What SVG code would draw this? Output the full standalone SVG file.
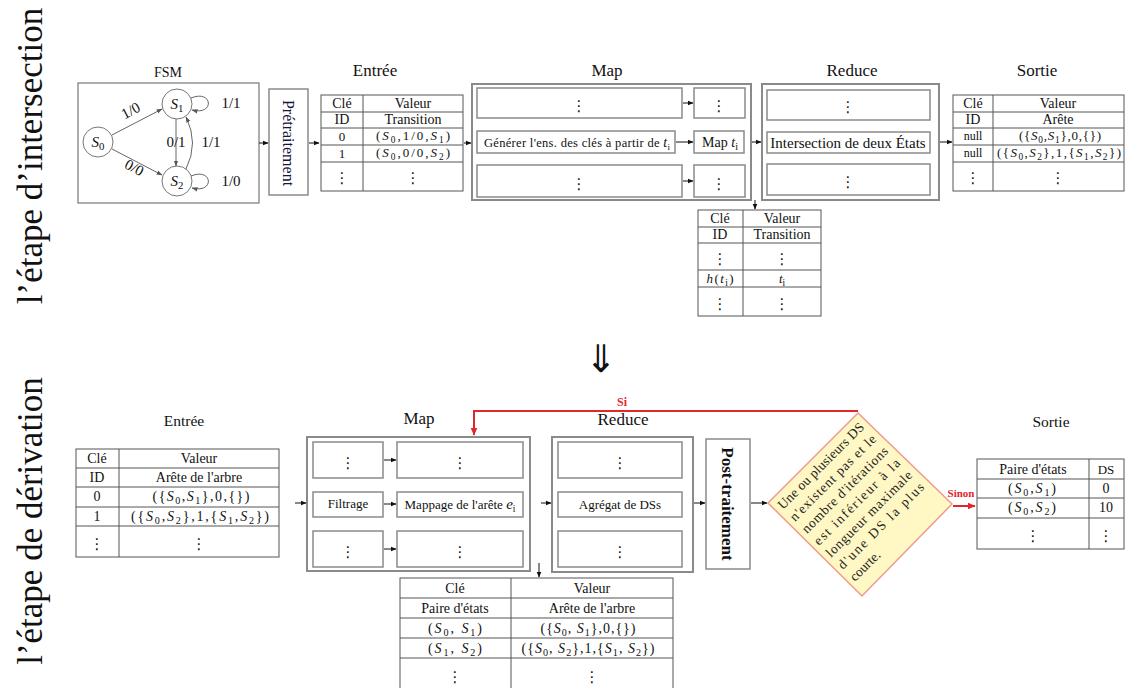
<svg xmlns="http://www.w3.org/2000/svg" width="1129" height="688" viewBox="0 0 1129 688">
<defs>
<style>
.t{font-family:"Liberation Serif",serif;fill:#111;text-anchor:middle}
.i{font-style:italic}
.sb{font-size:0.72em}
.d{font-family:"DejaVu Sans",sans-serif;fill:#111;text-anchor:middle;font-size:15px}
.box{fill:#fff;stroke:#8a8a8a;stroke-width:1.5}
.outer{fill:#fff;stroke:#8a8a8a;stroke-width:2}
.tb{fill:#fff;stroke:#555;stroke-width:1}
.ln{stroke:#555;stroke-width:1}
.c{stroke:#111;stroke-width:1;fill:none}
.fe{stroke:#666;stroke-width:1;fill:none}
.red{stroke:#e3262b;stroke-width:2;fill:none}
</style>
<marker id="ah" markerWidth="6" markerHeight="6" refX="5.5" refY="3" orient="auto" markerUnits="userSpaceOnUse"><path d="M0,0.5 L6,3 L0,5.5 z" fill="#111"/></marker>
<marker id="ahg" markerWidth="6" markerHeight="6" refX="5.5" refY="3" orient="auto" markerUnits="userSpaceOnUse"><path d="M0,0.8 L6,3 L0,5.2 z" fill="#555"/></marker>
<marker id="ahr" markerWidth="8" markerHeight="8" refX="7.5" refY="4" orient="auto" markerUnits="userSpaceOnUse"><path d="M0,0.5 L8,4 L0,7.5 z" fill="#e3262b"/></marker>
</defs>
<rect width="1129" height="688" fill="#fff"/>

<!-- side labels -->
<g id="label-intersection"><text class="t" font-size="35" transform="translate(42,156) rotate(-90)">l’étape d’intersection</text></g>
<g id="label-derivation"><text class="t" font-size="35" transform="translate(42,521) rotate(-90)">l’étape de dérivation</text></g>
<g id="big-arrow"><text x="601" y="372" font-family="DejaVu Sans, sans-serif" font-size="38" text-anchor="middle" fill="#111">⇓</text></g>

<!-- ===== TOP ===== -->
<g id="fsm">
<text class="t" x="168" y="77" font-size="14">FSM</text>
<rect x="78" y="83" width="181" height="120" fill="#fff" stroke="#777" stroke-width="1.2"/>
<circle cx="98" cy="142" r="15" fill="#fff" stroke="#777"/>
<circle cx="177" cy="104" r="15" fill="#fff" stroke="#777"/>
<circle cx="177" cy="181" r="15" fill="#fff" stroke="#777"/>
<text class="t" x="98" y="147" font-size="15"><tspan class="i">S</tspan><tspan class="sb" dy="3">0</tspan></text>
<text class="t" x="177" y="109" font-size="15"><tspan class="i">S</tspan><tspan class="sb" dy="3">1</tspan></text>
<text class="t" x="177" y="186" font-size="15"><tspan class="i">S</tspan><tspan class="sb" dy="3">2</tspan></text>
<line x1="112" y1="135" x2="162" y2="109" class="fe" marker-end="url(#ahg)"/>
<line x1="112" y1="149" x2="162" y2="175" class="fe" marker-end="url(#ahg)"/>
<line x1="176" y1="119" x2="176" y2="166" class="fe" marker-end="url(#ahg)"/>
<path d="M186 169 Q199 143 186 117" class="fe" marker-end="url(#ahg)"/>
<path d="M191 98 C213 89 215 116 192 110" class="fe" marker-end="url(#ahg)"/>
<path d="M191 176 C213 167 215 194 192 188" class="fe" marker-end="url(#ahg)"/>
<text class="t" font-size="15" transform="translate(133,115) rotate(-28)">1/0</text>
<text class="t" font-size="15" transform="translate(132,172) rotate(28)">0/0</text>
<text class="t" x="176" y="147" font-size="15">0/1</text>
<text class="t" x="211" y="147" font-size="15">1/1</text>
<text class="t" x="231" y="108" font-size="15">1/1</text>
<text class="t" x="231" y="186" font-size="15">1/0</text>
</g>

<g id="pretraitement">
<rect x="269" y="89" width="39" height="106" class="box"/>
<text class="t" font-size="16" style="fill:#14143c" transform="translate(283,143) rotate(90)">Prétraitement</text>
</g>

<g id="entree-top">
<text class="t" x="375" y="76" font-size="17">Entrée</text>
<rect x="321" y="95" width="142" height="96" class="tb"/>
<line x1="363" y1="95" x2="363" y2="191" class="ln"/>
<line x1="321" y1="112" x2="463" y2="112" class="ln"/>
<line x1="321" y1="128" x2="463" y2="128" class="ln"/>
<line x1="321" y1="145" x2="463" y2="145" class="ln"/>
<line x1="321" y1="162" x2="463" y2="162" class="ln"/>
<text class="t" x="342" y="108" font-size="14">Clé</text>
<text class="t" x="413" y="108" font-size="14">Valeur</text>
<text class="t" x="342" y="124" font-size="14">ID</text>
<text class="t" x="413" y="124" font-size="14">Transition</text>
<text class="t" x="342" y="141" font-size="13">0</text>
<text class="t" x="342" y="158" font-size="13">1</text>
<text class="t" x="413" y="140" font-size="13" textLength="74" lengthAdjust="spacing">(<tspan class="i">S</tspan><tspan class="sb" dy="3">0</tspan><tspan dy="-3">,1/0,</tspan><tspan class="i">S</tspan><tspan class="sb" dy="3">1</tspan><tspan dy="-3">)</tspan></text>
<text class="t" x="413" y="157" font-size="13" textLength="74" lengthAdjust="spacing">(<tspan class="i">S</tspan><tspan class="sb" dy="3">0</tspan><tspan dy="-3">,0/0,</tspan><tspan class="i">S</tspan><tspan class="sb" dy="3">2</tspan><tspan dy="-3">)</tspan></text>
<text class="d" x="342" y="183">⋮</text>
<text class="d" x="413" y="183">⋮</text>
</g>

<g id="map-top">
<text class="t" x="607" y="76" font-size="17">Map</text>
<rect x="472" y="84" width="279" height="116" class="outer"/>
<rect x="477" y="88" width="205" height="30" class="box"/>
<rect x="694" y="88" width="51" height="30" class="box"/>
<rect x="477" y="131" width="198" height="22" class="box"/>
<rect x="694" y="131" width="50" height="22" class="box"/>
<rect x="477" y="165" width="205" height="32" class="box"/>
<rect x="694" y="165" width="51" height="32" class="box"/>
<text class="d" x="579" y="111">⋮</text>
<text class="d" x="719" y="111">⋮</text>
<text class="d" x="579" y="189">⋮</text>
<text class="d" x="719" y="189">⋮</text>
<text class="t" x="577" y="147" font-size="12.5" textLength="186" lengthAdjust="spacing">Générer l'ens. des clés à partir de  <tspan class="i" font-size="14">t</tspan><tspan class="sb" dy="3">i</tspan></text>
<text class="t" x="720" y="147" font-size="14">Map  <tspan class="i">t</tspan><tspan class="sb" dy="3">i</tspan></text>
</g>

<g id="reduce-top">
<text class="t" x="852" y="76" font-size="17">Reduce</text>
<rect x="762" y="84" width="177" height="116" class="outer"/>
<rect x="767" y="90" width="163" height="30" class="box"/>
<rect x="767" y="132" width="163" height="21" class="box"/>
<rect x="767" y="164" width="163" height="31" class="box"/>
<text class="d" x="848" y="112">⋮</text>
<text class="d" x="848" y="187">⋮</text>
<text class="t" x="848" y="148" font-size="15">Intersection de deux États</text>
</g>

<g id="sortie-top">
<text class="t" x="1037" y="76" font-size="17">Sortie</text>
<rect x="953" y="95" width="171" height="96" class="tb"/>
<line x1="993" y1="95" x2="993" y2="191" class="ln"/>
<line x1="953" y1="112" x2="1124" y2="112" class="ln"/>
<line x1="953" y1="128" x2="1124" y2="128" class="ln"/>
<line x1="953" y1="145" x2="1124" y2="145" class="ln"/>
<line x1="953" y1="162" x2="1124" y2="162" class="ln"/>
<text class="t" x="973" y="108" font-size="14">Clé</text>
<text class="t" x="1058" y="108" font-size="14">Valeur</text>
<text class="t" x="973" y="124" font-size="14">ID</text>
<text class="t" x="1058" y="124" font-size="14">Arête</text>
<text class="t" x="973" y="140" font-size="12">null</text>
<text class="t" x="973" y="157" font-size="12">null</text>
<text class="t" x="1060" y="140" font-size="13" textLength="82" lengthAdjust="spacing">({<tspan class="i">S</tspan><tspan class="sb" dy="3">0</tspan><tspan dy="-3">,</tspan><tspan class="i">S</tspan><tspan class="sb" dy="3">1</tspan><tspan dy="-3">},0,{})</tspan></text>
<text class="t" x="1059" y="157" font-size="13" textLength="124" lengthAdjust="spacing">({<tspan class="i">S</tspan><tspan class="sb" dy="3">0</tspan><tspan dy="-3">,</tspan><tspan class="i">S</tspan><tspan class="sb" dy="3">2</tspan><tspan dy="-3">},1,{</tspan><tspan class="i">S</tspan><tspan class="sb" dy="3">1</tspan><tspan dy="-3">,</tspan><tspan class="i">S</tspan><tspan class="sb" dy="3">2</tspan><tspan dy="-3">})</tspan></text>
<text class="d" x="973" y="183">⋮</text>
<text class="d" x="1058" y="183">⋮</text>
</g>

<g id="inter-top">
<rect x="698" y="210" width="123" height="106" class="tb"/>
<line x1="743" y1="210" x2="743" y2="316" class="ln"/>
<line x1="698" y1="227" x2="821" y2="227" class="ln"/>
<line x1="698" y1="243" x2="821" y2="243" class="ln"/>
<line x1="698" y1="270" x2="821" y2="270" class="ln"/>
<line x1="698" y1="287" x2="821" y2="287" class="ln"/>
<text class="t" x="720" y="223" font-size="14">Clé</text>
<text class="t" x="782" y="223" font-size="14">Valeur</text>
<text class="t" x="720" y="239" font-size="14">ID</text>
<text class="t" x="782" y="239" font-size="14">Transition</text>
<text class="d" x="720" y="264">⋮</text>
<text class="d" x="782" y="264">⋮</text>
<text class="t" x="720" y="283" font-size="13" textLength="27" lengthAdjust="spacing"><tspan class="i">h</tspan>(<tspan class="i">t</tspan><tspan class="sb" dy="3">i</tspan><tspan dy="-3">)</tspan></text>
<text class="t" x="782" y="283" font-size="13"><tspan class="i">t</tspan><tspan class="sb" dy="3">i</tspan></text>
<text class="d" x="720" y="309">⋮</text>
<text class="d" x="782" y="309">⋮</text>
</g>

<!-- ===== BOTTOM ===== -->
<g id="entree-bottom">
<text class="t" x="184" y="426" font-size="15.5">Entrée</text>
<rect x="76" y="449" width="203" height="108" class="tb"/>
<line x1="119" y1="449" x2="119" y2="557" class="ln"/>
<line x1="76" y1="468" x2="279" y2="468" class="ln"/>
<line x1="76" y1="487" x2="279" y2="487" class="ln"/>
<line x1="76" y1="507" x2="279" y2="507" class="ln"/>
<line x1="76" y1="526" x2="279" y2="526" class="ln"/>
<text class="t" x="97" y="463" font-size="14">Clé</text>
<text class="t" x="199" y="463" font-size="14">Valeur</text>
<text class="t" x="97" y="482" font-size="14">ID</text>
<text class="t" x="199" y="482" font-size="14">Arête de l'arbre</text>
<text class="t" x="97" y="501" font-size="14">0</text>
<text class="t" x="97" y="521" font-size="14">1</text>
<text class="t" x="201" y="501" font-size="14" textLength="97" lengthAdjust="spacing">({<tspan class="i">S</tspan><tspan class="sb" dy="3">0</tspan><tspan dy="-3">,</tspan><tspan class="i">S</tspan><tspan class="sb" dy="3">1</tspan><tspan dy="-3">},0,{})</tspan></text>
<text class="t" x="200" y="521" font-size="14" textLength="138" lengthAdjust="spacing">({<tspan class="i">S</tspan><tspan class="sb" dy="3">0</tspan><tspan dy="-3">,</tspan><tspan class="i">S</tspan><tspan class="sb" dy="3">2</tspan><tspan dy="-3">},1,{</tspan><tspan class="i">S</tspan><tspan class="sb" dy="3">1</tspan><tspan dy="-3">,</tspan><tspan class="i">S</tspan><tspan class="sb" dy="3">2</tspan><tspan dy="-3">})</tspan></text>
<text class="d" x="97" y="549">⋮</text>
<text class="d" x="199" y="549">⋮</text>
</g>

<g id="map-bottom">
<text class="t" x="419" y="424" font-size="17">Map</text>
<rect x="307" y="437" width="223" height="134" class="outer"/>
<rect x="313" y="442" width="70" height="36" class="box"/>
<rect x="397" y="442" width="126" height="36" class="box"/>
<rect x="313" y="492" width="70" height="25" class="box"/>
<rect x="397" y="492" width="126" height="25" class="box"/>
<rect x="313" y="531" width="70" height="36" class="box"/>
<rect x="397" y="531" width="126" height="36" class="box"/>
<text class="d" x="348" y="468">⋮</text>
<text class="d" x="460" y="468">⋮</text>
<text class="d" x="348" y="557">⋮</text>
<text class="d" x="460" y="557">⋮</text>
<text class="t" x="348" y="508" font-size="13">Filtrage</text>
<text class="t" x="460" y="509" font-size="13">Mappage de l'arête <tspan class="i" font-size="15">e</tspan><tspan class="sb" dy="3">i</tspan></text>
</g>

<g id="reduce-bottom">
<text class="t" x="623" y="425" font-size="17">Reduce</text>
<rect x="552" y="437" width="141" height="135" class="outer"/>
<rect x="558" y="442" width="124" height="36" class="box"/>
<rect x="558" y="492" width="124" height="25" class="box"/>
<rect x="558" y="531" width="124" height="36" class="box"/>
<text class="d" x="620" y="468">⋮</text>
<text class="d" x="620" y="557">⋮</text>
<text class="t" x="620" y="509" font-size="13">Agrégat de DSs</text>
</g>

<g id="post-traitement">
<rect x="706" y="439" width="44" height="130" class="box"/>
<text class="t" font-size="17" font-weight="bold" transform="translate(722,504) rotate(90)">Post-traitement</text>
</g>

<g id="decision">
<polygon points="768,503 858,413 952,504 862,596" fill="#fff7c4" stroke="#f19a8c" stroke-width="1.5"/>
<g transform="translate(860,505) rotate(-45)" font-family="Liberation Serif, serif" font-size="13.5" fill="#222">
<text x="-58" y="-51" textLength="116" lengthAdjust="spacing">Une ou plusieurs DS</text>
<text x="-58" y="-34" textLength="116" lengthAdjust="spacing">n'existent pas et le</text>
<text x="-58" y="-17" textLength="116" lengthAdjust="spacing">nombre d'itérations</text>
<text x="-58" y="0" textLength="116" lengthAdjust="spacing">est inférieur à la</text>
<text x="-58" y="17" textLength="116" lengthAdjust="spacing">longueur maximale</text>
<text x="-58" y="34" textLength="116" lengthAdjust="spacing">d'une DS la plus</text>
<text x="-58" y="51">courte.</text>
</g>
</g>

<g id="sortie-bottom">
<text class="t" x="1051" y="427" font-size="15.5">Sortie</text>
<rect x="977" y="459" width="147" height="90" class="tb"/>
<line x1="1089" y1="459" x2="1089" y2="549" class="ln"/>
<line x1="977" y1="479" x2="1124" y2="479" class="ln"/>
<line x1="977" y1="498" x2="1124" y2="498" class="ln"/>
<line x1="977" y1="518" x2="1124" y2="518" class="ln"/>
<text class="t" x="1033" y="474" font-size="14">Paire d'états</text>
<text class="t" x="1106" y="474" font-size="13">DS</text>
<text class="t" x="1032" y="493" font-size="14" textLength="48" lengthAdjust="spacing">(<tspan class="i">S</tspan><tspan class="sb" dy="3">0</tspan><tspan dy="-3">,</tspan><tspan class="i">S</tspan><tspan class="sb" dy="3">1</tspan><tspan dy="-3">)</tspan></text>
<text class="t" x="1032" y="512" font-size="14" textLength="48" lengthAdjust="spacing">(<tspan class="i">S</tspan><tspan class="sb" dy="3">0</tspan><tspan dy="-3">,</tspan><tspan class="i">S</tspan><tspan class="sb" dy="3">2</tspan><tspan dy="-3">)</tspan></text>
<text class="t" x="1106" y="493" font-size="14">0</text>
<text class="t" x="1106" y="512" font-size="14">10</text>
<text class="d" x="1033" y="541">⋮</text>
<text class="d" x="1106" y="541">⋮</text>
</g>

<g id="inter-bottom">
<rect x="400" y="578" width="273" height="115" class="tb"/>
<line x1="511" y1="578" x2="511" y2="693" class="ln"/>
<line x1="400" y1="598" x2="673" y2="598" class="ln"/>
<line x1="400" y1="618" x2="673" y2="618" class="ln"/>
<line x1="400" y1="638" x2="673" y2="638" class="ln"/>
<line x1="400" y1="658" x2="673" y2="658" class="ln"/>
<text class="t" x="455" y="593" font-size="14">Clé</text>
<text class="t" x="592" y="593" font-size="14">Valeur</text>
<text class="t" x="455" y="613" font-size="14">Paire d'états</text>
<text class="t" x="592" y="613" font-size="14">Arête de l'arbre</text>
<text class="t" x="455" y="633" font-size="14" textLength="54" lengthAdjust="spacing">(<tspan class="i">S</tspan><tspan class="sb" dy="3">0</tspan><tspan dy="-3">, </tspan><tspan class="i">S</tspan><tspan class="sb" dy="3">1</tspan><tspan dy="-3">)</tspan></text>
<text class="t" x="455" y="653" font-size="14" textLength="54" lengthAdjust="spacing">(<tspan class="i">S</tspan><tspan class="sb" dy="3">1</tspan><tspan dy="-3">, </tspan><tspan class="i">S</tspan><tspan class="sb" dy="3">2</tspan><tspan dy="-3">)</tspan></text>
<text class="t" x="588" y="633" font-size="14" textLength="95" lengthAdjust="spacing">({<tspan class="i">S</tspan><tspan class="sb" dy="3">0</tspan><tspan dy="-3">, </tspan><tspan class="i">S</tspan><tspan class="sb" dy="3">1</tspan><tspan dy="-3">},0,{})</tspan></text>
<text class="t" x="588" y="653" font-size="14" textLength="133" lengthAdjust="spacing">({<tspan class="i">S</tspan><tspan class="sb" dy="3">0</tspan><tspan dy="-3">, </tspan><tspan class="i">S</tspan><tspan class="sb" dy="3">2</tspan><tspan dy="-3">},1,{</tspan><tspan class="i">S</tspan><tspan class="sb" dy="3">1</tspan><tspan dy="-3">, </tspan><tspan class="i">S</tspan><tspan class="sb" dy="3">2</tspan><tspan dy="-3">})</tspan></text>
<text class="d" x="455" y="682">⋮</text>
<text class="d" x="592" y="682">⋮</text>
</g>

<!-- connectors -->
<g id="connectors">
<line x1="259" y1="143" x2="268" y2="143" class="c" marker-end="url(#ah)"/>
<line x1="309" y1="143" x2="319" y2="143" class="c" marker-end="url(#ah)"/>
<line x1="464" y1="143" x2="471" y2="143" class="c" marker-end="url(#ah)"/>
<line x1="683" y1="103" x2="693" y2="103" class="c" marker-end="url(#ah)"/>
<line x1="676" y1="142" x2="693" y2="142" class="c" marker-end="url(#ah)"/>
<line x1="683" y1="181" x2="693" y2="181" class="c" marker-end="url(#ah)"/>
<line x1="752" y1="142" x2="761" y2="142" class="c" marker-end="url(#ah)"/>
<line x1="940" y1="142" x2="952" y2="142" class="c" marker-end="url(#ah)"/>
<line x1="755" y1="200" x2="755" y2="209" class="c" marker-end="url(#ah)"/>
<line x1="295" y1="503" x2="306" y2="503" class="c" marker-end="url(#ah)"/>
<line x1="384" y1="460" x2="396" y2="460" class="c" marker-end="url(#ah)"/>
<line x1="384" y1="504" x2="396" y2="504" class="c" marker-end="url(#ah)"/>
<line x1="384" y1="549" x2="396" y2="549" class="c" marker-end="url(#ah)"/>
<line x1="541" y1="503" x2="551" y2="503" class="c" marker-end="url(#ah)"/>
<line x1="539" y1="563" x2="539" y2="577" class="c" marker-end="url(#ah)"/>
<line x1="694" y1="503" x2="705" y2="503" class="c" marker-end="url(#ah)"/>
<line x1="751" y1="503" x2="767" y2="503" class="c" marker-end="url(#ah)"/>
<polyline points="858,411 474,411 474,435" class="red" marker-end="url(#ahr)"/>
<text x="622" y="406" font-family="Liberation Serif, serif" font-size="12" font-weight="bold" fill="#e3262b" text-anchor="middle">Si</text>
<line x1="953" y1="506" x2="975" y2="506" class="red" marker-end="url(#ahr)"/>
<text x="961" y="497" font-family="Liberation Serif, serif" font-size="11" font-weight="bold" fill="#e3262b" text-anchor="middle">Sinon</text>
</g>
</svg>
